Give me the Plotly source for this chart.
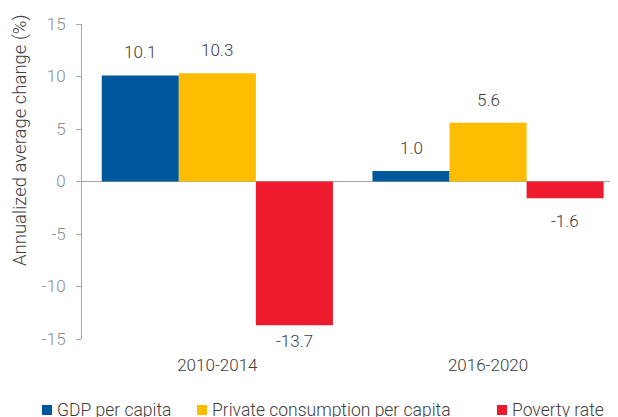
import plotly.graph_objects as go

categories = ["2010-2014", "2016-2020"]
series_names = ["GDP per capita", "Private consumption per capita", "Poverty rate"]
gdp = [10.1, 1.0]
consumption = [10.3, 5.6]
poverty = [-13.7, -1.6]
colors = ["#00589C", "#FFBD00", "#EC1C2E"]
y_tickvals = [15, 10, 5, 0, -5, -10, -15]
y_ticktext = ["15", "10", "5", "0", "-5", "-10", "-15"]
y_title = "Annualized average change (%)"

# the page body has an 8px default margin; compensate so the figure fills the window
PAGE_OFF = 8
W, H = 618 - PAGE_OFF, 417 - PAGE_OFF
L, R, T = 82 - PAGE_OFF, 0, 24 - PAGE_OFF
PW, PH = 536, 315
B = H - T - PH
YMIN, YMAX = -15, 15
XMIN, XMAX = -0.5, 1.48
BARGAP = 0.146

FONT = "Roboto Light, Roboto, sans-serif"
DARK = "#404040"
GREY = "#8C8C8C"
LINE = "#A6A6A6"


def px_x(p):
    """window pixel -> paper x"""
    return (p - PAGE_OFF - L) / PW


def px_y(p):
    """window pixel -> paper y"""
    return (T + PH - (p - PAGE_OFF)) / PH


fig = go.Figure()
all_series = [gdp, consumption, poverty]
for name, vals, col in zip(series_names, all_series, colors):
    fig.add_trace(go.Bar(
        x=categories, y=vals, name=name,
        marker=dict(color=col, line=dict(width=0)),
        showlegend=False,
    ))

# data labels
unit_px_y = PH / (YMAX - YMIN)
bar_w = (1 - BARGAP) / len(all_series)
for si, vals in enumerate(all_series):
    offset = (si - (len(all_series) - 1) / 2) * bar_w
    for ci, v in enumerate(vals):
        shift = 23 if v >= 0 else -23
        # keep labels from running below the axis bottom
        room_below = (v - YMIN) * unit_px_y + 1.5
        if shift < 0:
            shift = -min(23, room_below)
        fig.add_annotation(
            x=ci + offset, y=v, xref="x", yref="y", yshift=shift,
            text=f"{v:.1f}", showarrow=False, xanchor="center", yanchor="middle",
            font=dict(family=FONT, size=17, color=DARK, weight=300),
        )

# legend (custom, to match spacing)
legend_sq_x = [42, 197, 497]
legend_txt_x = [55, 210, 510]
legend_y = 410
for name, col, sx, tx in zip(series_names, colors, legend_sq_x, legend_txt_x):
    fig.add_shape(type="rect", xref="paper", yref="paper",
                  x0=px_x(sx), x1=px_x(sx + 10), y0=px_y(legend_y + 5), y1=px_y(legend_y - 5),
                  fillcolor=col, line=dict(width=0))
    fig.add_annotation(x=px_x(tx), y=px_y(legend_y), xref="paper", yref="paper",
                       text=name, showarrow=False, xanchor="left", yanchor="middle",
                       font=dict(family=FONT, size=17.5, color=DARK, weight=300))

# y-axis title
fig.add_annotation(x=px_x(20), y=px_y(140), xref="paper", yref="paper",
                   text=y_title, textangle=-90, showarrow=False,
                   xanchor="center", yanchor="middle",
                   font=dict(family=FONT, size=18.5, color=DARK, weight=300))

fig.update_layout(
    width=W, height=H,
    margin=dict(l=L, r=R, t=T, b=B, autoexpand=False),
    plot_bgcolor="white", paper_bgcolor="white",
    barmode="group", bargap=BARGAP, bargroupgap=0,
    font=dict(family=FONT, size=17, color=DARK, weight=300),
    showlegend=False,
)
fig.update_xaxes(range=[XMIN, XMAX], showline=False, showgrid=False, zeroline=False,
                 automargin=False,
                 tickfont=dict(family=FONT, size=17, color=DARK, weight=300),
                 ticks="", ticklabelstandoff=14)
fig.update_yaxes(range=[YMIN, YMAX], tickvals=y_tickvals, ticktext=y_ticktext,
                 showgrid=False, automargin=False,
                 showline=True, linecolor=LINE, linewidth=1,
                 ticks="outside", ticklen=5, tickcolor=LINE,
                 zeroline=True, zerolinecolor=LINE, zerolinewidth=1,
                 ticklabelstandoff=7,
                 tickfont=dict(family=FONT, size=17, color=GREY, weight=300))

fig.write_html("out.html")
